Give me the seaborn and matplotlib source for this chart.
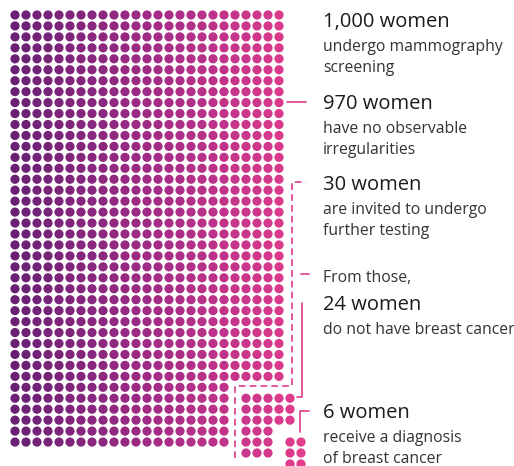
import numpy as np
import pandas as pd
import matplotlib
matplotlib.use("Agg")
import matplotlib.pyplot as plt
from matplotlib.colors import LinearSegmentedColormap
import seaborn as sns

# ── Data ───────────────────────────────────────────────────────
TOTAL = 1000
NO_IRREGULAR = 970
FURTHER_TEST = 30
NO_CANCER = 24
DIAGNOSED = 6

N_COLS = 25          # waffle width
CUT_COLS, CUT_ROWS = 5, 6    # the 30 recalled women (bottom-right corner)
DIAG_COLS = 2                # the 6 diagnosed (right part of lower half of the cut)

titles = ["1,000 women", "970 women", "30 women", "24 women", "6 women"]
subtitles = [
    ["undergo mammography", "screening"],
    ["have no observable", "irregularities"],
    ["are invited to undergo", "further testing"],
    ["do not have breast cancer"],
    ["receive a diagnosis", "of breast cancer"],
]
from_those = "From those,"

PINK = "#dd3b8c"
W, H = 514, 466
X0, Y0, DX, DY = 15, 15, 11.0, 10.95   # pixel position of first dot and pitch


def build_cells():
    n_rows = TOTAL // N_COLS
    rows = []
    for r in range(n_rows):
        for c in range(N_COLS):
            in_cut = r >= n_rows - CUT_ROWS and c >= N_COLS - CUT_COLS
            if not in_cut:
                rows.append((c, r, "main"))
                continue
            diag = (r >= n_rows - DIAGNOSED // DIAG_COLS) and (c >= N_COLS - DIAG_COLS)
            if diag:
                rows.append((c + 2, r + 2, "diag"))
            else:
                rows.append((c + 1, r + 1, "clear"))
    return pd.DataFrame(rows, columns=["col", "row", "group"])


def px(x, y):
    """pixel -> grid coordinates"""
    return (x - X0) / DX, (y - Y0) / DY


def main():
    df = build_cells()
    assert (df["group"] == "main").sum() == NO_IRREGULAR
    assert (df["group"] == "clear").sum() == NO_CANCER
    assert (df["group"] == "diag").sum() == DIAGNOSED

    sns.set_theme(style="white")
    plt.rcParams["font.family"] = ["Open Sans", "DejaVu Sans"]

    fig = plt.figure(figsize=(W / 100, H / 100), dpi=100)
    ax = fig.add_axes([0, 0, 1, 1])

    cmap = LinearSegmentedColormap.from_list("pp", ["#6a2174", "#a42c86", "#e23c8d"])
    sns.scatterplot(data=df, x="col", y="row", hue="col", palette=cmap,
                    hue_norm=(0, 26), s=44, linewidth=0, legend=False, ax=ax)

    x_lo, y_lo = px(0, 0)
    x_hi, y_hi = px(W, H)
    ax.set_xlim(x_lo, x_hi)
    ax.set_ylim(y_hi, y_lo)
    ax.axis("off")

    lw = 1.2
    # 970: short tick
    ax.plot(*zip(px(287, 102), px(306, 102)), color=PINK, lw=lw)
    # 30: dashed outline round the cut-out
    pts = [px(235, 458), px(235, 385.5), px(292, 385.5), px(292, 182), px(306, 182)]
    ax.plot(*zip(*pts), color=PINK, lw=lw, ls=(0, (4, 2.5)))
    # "From those," dash
    ax.plot(*zip(px(301.5, 274), px(309, 274)), color=PINK, lw=lw)
    # 24 bracket
    pts = [px(302.5, 303), px(302.5, 396.5), px(297, 396.5)]
    ax.plot(*zip(*pts), color=PINK, lw=lw)
    # 6 bracket
    pts = [px(309, 410.5), px(300.5, 410.5), px(300.5, 432)]
    ax.plot(*zip(*pts), color=PINK, lw=lw)

    # ── Texts ──
    tx = 323
    title_base = [27, 109, 190, 310, 418]
    for t, subs, yb in zip(titles, subtitles, title_base):
        ax.text(*px(tx, yb), t, fontsize=14.5, color="#1b1b1b", va="baseline", ha="left")
        for i, s in enumerate(subs):
            ax.text(*px(tx, yb + 24 + 21 * i), s, fontsize=11.3, color="#333333",
                    va="baseline", ha="left")
    ax.text(*px(tx, 282), from_those, fontsize=11.3, color="#333333", va="baseline", ha="left")

    fig.savefig("out.png", dpi=100)
    plt.close(fig)


if __name__ == "__main__":
    main()
